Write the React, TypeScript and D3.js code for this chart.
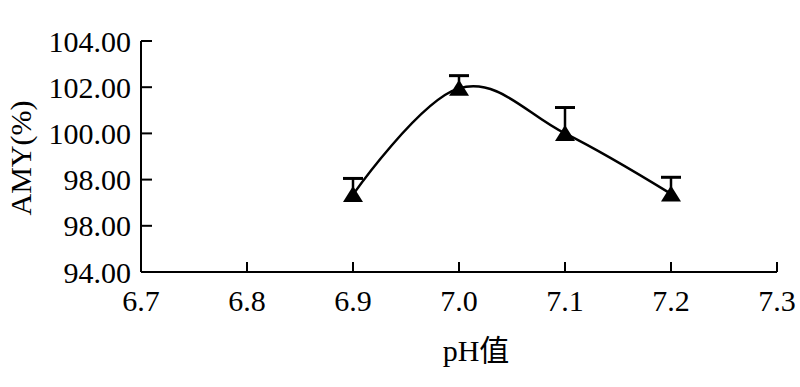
import React from "react";
import * as d3 from "d3";

const phValues = [6.9, 7.0, 7.1, 7.2];
const amyMeans = [97.35, 101.95, 100.0, 97.38];
const amyErrors = [0.7, 0.55, 1.12, 0.72];
const xTicks = [6.7, 6.8, 6.9, 7.0, 7.1, 7.2, 7.3];
const yTicks = [94, 96, 98, 100, 102, 104];
const yTickLabels = ["94.00", "98.00", "98.00", "100.00", "102.00", "104.00"];
const xTitle = "pH值";
const yTitle = "AMY(%)";

const W = 800;
const H = 387;
const FONT = '"Liberation Serif", "DejaVu Serif", "Noto Sans CJK SC", serif';

export default function App() {
  const x = d3.scaleLinear().domain([6.7, 7.3]).range([141, 777]);
  const y = d3.scaleLinear().domain([94, 104]).range([272, 41]);

  const pts = phValues.map((p, i) => ({ p, v: amyMeans[i], e: amyErrors[i] }));
  const line = d3
    .line<{ p: number; v: number }>()
    .x((d) => x(d.p))
    .y((d) => y(d.v))
    .curve(d3.curveCardinal.tension(-0.1));

  const triW = 20;
  const triH = 15;
  const tri = (cx: number, cy: number) => {
    const pth = d3.path();
    pth.moveTo(cx, cy - triH / 2 - 1);
    pth.lineTo(cx + triW / 2, cy + triH / 2);
    pth.lineTo(cx - triW / 2, cy + triH / 2);
    pth.closePath();
    return pth.toString();
  };

  const ts: React.CSSProperties = { fontFamily: FONT };

  return (
    <svg
      width={W}
      height={H}
      style={{ position: "absolute", left: 0, top: 0, background: "#fff", fontFamily: FONT }}
    >
      <rect x={0} y={0} width={W} height={H} fill="#fff" />
      <line x1={x(6.7)} x2={x(6.7)} y1={y(104)} y2={y(94)} stroke="#000" strokeWidth={2} />
      <line x1={x(6.7)} x2={x(7.3)} y1={y(94)} y2={y(94)} stroke="#000" strokeWidth={2} />
      {yTicks.map((t, i) => (
        <g key={"y" + i}>
          <line x1={x(6.7)} x2={x(6.7) + 11} y1={y(t)} y2={y(t)} stroke="#000" strokeWidth={2} />
          <text style={ts} x={x(6.7) - 10} y={y(t)} dy="0.35em" textAnchor="end" fontSize={30} fill="#000">
            {yTickLabels[i]}
          </text>
        </g>
      ))}
      {xTicks.map((t, i) => (
        <g key={"x" + i}>
          <line x1={x(t)} x2={x(t)} y1={y(94)} y2={y(94) - 10} stroke="#000" strokeWidth={2} />
          <text style={ts} x={x(t)} y={y(94) + 39} textAnchor="middle" fontSize={30} fill="#000">
            {t.toFixed(1)}
          </text>
        </g>
      ))}
      <text style={ts} x={476} y={361} textAnchor="middle" fontSize={30} fill="#000">
        {xTitle}
      </text>
      <text
        style={ts}
        transform={`translate(31, 158) rotate(-90)`}
        textAnchor="middle"
        fontSize={30}
        fill="#000"
      >
        {yTitle}
      </text>
      {pts.map((d, i) => (
        <g key={"e" + i}>
          <line x1={x(d.p)} x2={x(d.p)} y1={y(d.v)} y2={y(d.v + d.e)} stroke="#000" strokeWidth={2.5} />
          <line x1={x(d.p) - 10} x2={x(d.p) + 10} y1={y(d.v + d.e)} y2={y(d.v + d.e)} stroke="#000" strokeWidth={3} />
        </g>
      ))}
      <path d={line(pts) || ""} fill="none" stroke="#000" strokeWidth={2.5} />
      {pts.map((d, i) => (
        <path key={"m" + i} d={tri(x(d.p), y(d.v))} fill="#000" />
      ))}
    </svg>
  );
}
